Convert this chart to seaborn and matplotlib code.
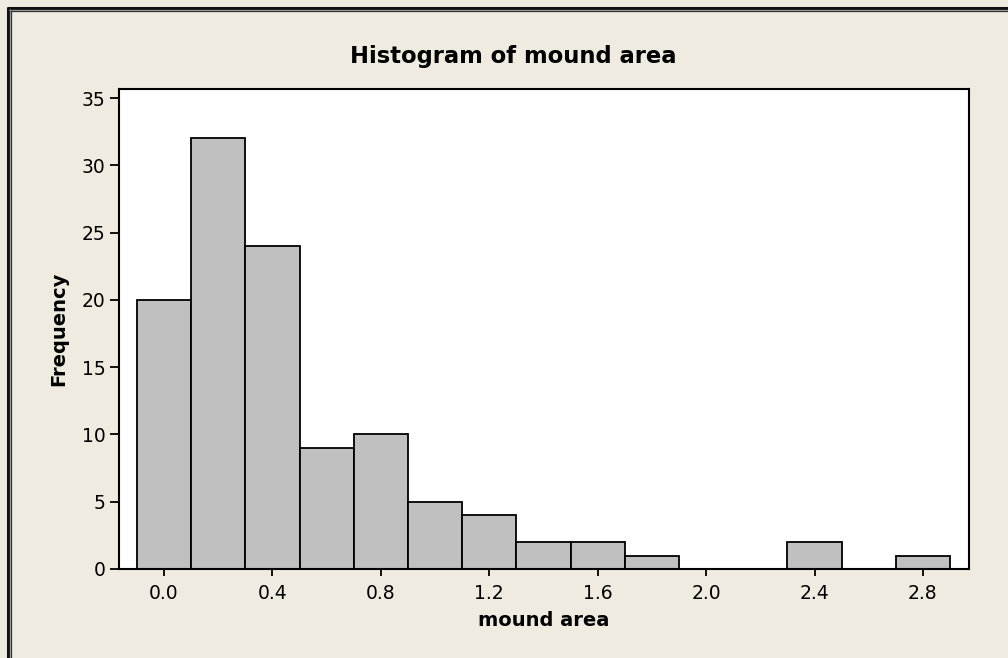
import matplotlib
matplotlib.use("Agg")
import matplotlib.pyplot as plt
from matplotlib.lines import Line2D
import pandas as pd
import seaborn as sns

# Binned mound areas: bin centres (width 0.2) and their counts
bin_centers = [0.0, 0.2, 0.4, 0.6, 0.8, 1.0, 1.2, 1.4, 1.6, 1.8, 2.0, 2.2, 2.4, 2.6, 2.8]
frequencies = [20, 32, 24, 9, 10, 5, 4, 2, 2, 1, 0, 0, 2, 0, 1]
bin_width = 0.2
x_ticks = [0.0, 0.4, 0.8, 1.2, 1.6, 2.0, 2.4, 2.8]
y_ticks = [0, 5, 10, 15, 20, 25, 30, 35]

df = pd.DataFrame({"mound area": bin_centers, "count": frequencies})
bin_range = (bin_centers[0] - bin_width / 2, bin_centers[-1] + bin_width / 2)

sns.set_theme(style="white")
plt.rcParams["font.family"] = ["DejaVu Sans"]

W, H = 1008, 658
bg = "#EFEBE1"
fig = plt.figure(figsize=(W / 100, H / 100), dpi=100, facecolor=bg)
ax = fig.add_axes([119 / W, 1 - 569 / H, (969 - 119) / W, (569 - 89) / H])
ax.set_facecolor("white")

sns.histplot(data=df, x="mound area", weights="count", binwidth=bin_width,
             binrange=bin_range, color="#C0C0C0", edgecolor="black",
             linewidth=1.3, alpha=1.0, ax=ax)

ax.set_xlim(-0.166, 2.97)
ax.set_ylim(0, 35.67)
ax.set_xticks(x_ticks)
ax.set_xticklabels([f"{t:.1f}" for t in x_ticks])
ax.set_yticks(y_ticks)
ax.tick_params(axis="x", bottom=True, direction="out", length=5, width=1.3,
               color="black", labelsize=13.5, labelcolor="black", pad=5.5)
ax.tick_params(axis="y", left=True, direction="out", length=6.5, width=1.3,
               color="black", labelsize=13.5, labelcolor="black", pad=3)
for s in ax.spines.values():
    s.set_visible(True)
    s.set_color("black")
    s.set_linewidth(1.5)

ax.set_xlabel("mound area", fontsize=14, fontweight="bold", color="black", labelpad=6)
ax.set_ylabel("Frequency", fontsize=14, fontweight="bold", color="black", labelpad=10)
fig.text(513 / W, 1 - 57 / H, "Histogram of mound area", ha="center", va="center",
         fontsize=16.3, fontweight="bold", color="black")

# Window frame along the top and left edges
def px_line(x0, y0, x1, y1, color, lw):
    fig.add_artist(Line2D([x0 / W, x1 / W], [1 - y0 / H, 1 - y1 / H],
                          transform=fig.transFigure, color=color, linewidth=lw,
                          solid_capstyle="butt"))

px_line(7, 7.5, W, 7.5, "#111111", 2.2)
px_line(7.5, 7, 7.5, H, "#111111", 2.2)
px_line(9, 9.5, W, 9.5, "#A8A8A8", 0.9)
px_line(9.5, 9, 9.5, H, "#A8A8A8", 0.9)
px_line(10, 10.5, W, 10.5, "#333333", 0.9)
px_line(10.5, 10, 10.5, H, "#333333", 0.9)

fig.savefig("out.png", dpi=100, facecolor=bg)
